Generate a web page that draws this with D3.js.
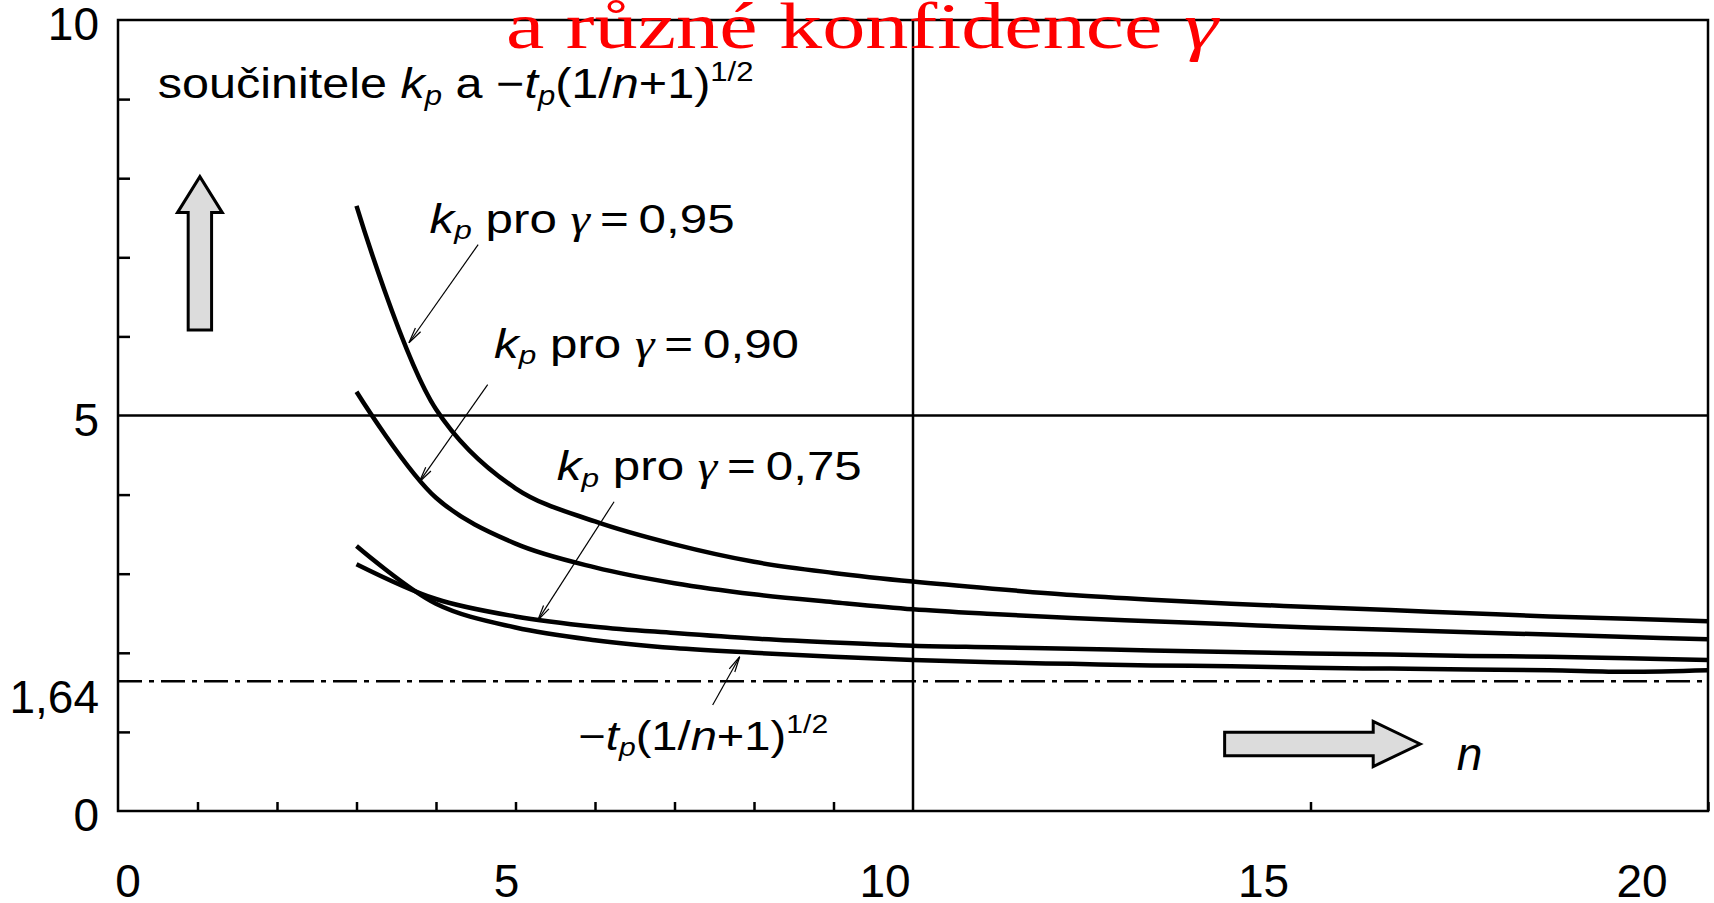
<!DOCTYPE html>
<html>
<head>
<meta charset="utf-8">
<script src="https://cdn.jsdelivr.net/npm/d3@7"></script>
<style>
  html, body { margin: 0; padding: 0; background: #fff; overflow: hidden; }
  svg { display: block; }
  text { fill: #000; }
</style>
</head>
<body>
<div id="chart"></div>
<script>
// values, n = 3 .. 20
var nValues = [3, 4, 5, 6, 7, 8, 9, 10, 11, 12, 13, 14, 15, 16, 17, 18, 19, 20];
var kp95 = [7.65, 5.08, 4.08, 3.66, 3.37, 3.15, 3.01, 2.90, 2.81, 2.73, 2.67, 2.62, 2.58, 2.54, 2.50, 2.46, 2.43, 2.40];
var kp90 = [5.30, 3.96, 3.38, 3.08, 2.88, 2.74, 2.64, 2.55, 2.49, 2.44, 2.40, 2.36, 2.32, 2.29, 2.26, 2.23, 2.20, 2.17];
var kp75 = [3.12, 2.68, 2.46, 2.33, 2.25, 2.18, 2.13, 2.09, 2.07, 2.05, 2.03, 2.01, 1.99, 1.98, 1.96, 1.95, 1.93, 1.91];
var tpTerm = [3.35, 2.62, 2.32, 2.16, 2.06, 2.00, 1.95, 1.91, 1.88, 1.86, 1.84, 1.83, 1.81, 1.80, 1.79, 1.78, 1.76, 1.78];
var limitValue = 1.64;

var xTickLabels = [0, 5, 10, 15, 20];
var yTickLabels = [10, 5, 1.64, 0];
var xMinorTicks = [1, 2, 3, 4, 5, 6, 7, 8, 9, 15, 20];
var yMinorTicks = [1, 2, 3, 4, 6, 7, 8, 9];

var SANS = '"Liberation Sans", Arial, sans-serif';
var SERIF = '"Liberation Serif", "Times New Roman", serif';

// set the dimensions and margins
var margin = { top: 20, right: 6, bottom: 92, left: 118 },
  width = 1714 - margin.left - margin.right,
  height = 903 - margin.top - margin.bottom;

var svg = d3.select('#chart')
  .append('svg')
  .attr('width', 1714)
  .attr('height', 903)
  .style('font-family', SANS);

var g = svg.append('g')
  .attr('transform', 'translate(' + margin.left + ',' + margin.top + ')');

var x = d3.scaleLinear().domain([0, 20]).range([0, width]);
var y = d3.scaleLinear().domain([0, 10]).range([height, 0]);
// the tick labels sit a bit left of their ticks in the original
var xLab = d3.scaleLinear().domain([0, 20]).range([10, 1524]);

var lineW = 2.5;

// ticks (pointing inwards)
var xAxis = g.append('g')
  .attr('transform', 'translate(0,' + height + ')')
  .call(d3.axisBottom(x).tickValues(xMinorTicks).tickSizeInner(-9).tickSizeOuter(0).tickFormat(''));
var yAxis = g.append('g')
  .call(d3.axisLeft(y).tickValues(yMinorTicks).tickSizeInner(-12).tickSizeOuter(0).tickFormat(''));
[xAxis, yAxis].forEach(function (a) {
  a.select('.domain').remove();
  a.selectAll('line').attr('stroke', '#000').attr('stroke-width', lineW);
});

// reference lines at n = 10 and 5
g.append('line')
  .attr('x1', x(10)).attr('x2', x(10))
  .attr('y1', 0).attr('y2', height)
  .attr('stroke', '#000').attr('stroke-width', lineW);
g.append('line')
  .attr('x1', 0).attr('x2', width)
  .attr('y1', y(5)).attr('y2', y(5))
  .attr('stroke', '#000').attr('stroke-width', lineW);

// dash-dot limit 1,64
g.append('line')
  .attr('x1', 0).attr('x2', width)
  .attr('y1', y(limitValue)).attr('y2', y(limitValue))
  .attr('stroke', '#000').attr('stroke-width', lineW)
  .attr('stroke-dasharray', '24,7,5,7');

// frame
g.append('rect')
  .attr('x', 0).attr('y', 0)
  .attr('width', width).attr('height', height)
  .attr('fill', 'none').attr('stroke', '#000').attr('stroke-width', lineW);

// curves
var series = [kp95, kp90, kp75, tpTerm];
var line = d3.line()
  .x(function (d) { return x(d.n); })
  .y(function (d) { return y(d.v); })
  .curve(d3.curveCatmullRom.alpha(0.5));

g.selectAll('path.curve')
  .data(series)
  .enter()
  .append('path')
  .attr('class', 'curve')
  .attr('fill', 'none')
  .attr('stroke', '#000')
  .attr('stroke-width', 4.5)
  .attr('stroke-linejoin', 'round')
  .attr('d', function (vals) {
    return line(nValues.map(function (n, i) { return { n: n, v: vals[i] }; }));
  });

// axis labels
g.selectAll('text.xl')
  .data(xTickLabels)
  .enter()
  .append('text')
  .attr('class', 'xl')
  .attr('x', function (d) { return xLab(d); })
  .attr('y', height + 86)
  .attr('text-anchor', 'middle')
  .attr('font-size', 46)
  .text(function (d) { return d; });

g.selectAll('text.yl')
  .data(yTickLabels)
  .enter()
  .append('text')
  .attr('class', 'yl')
  .attr('x', -19)
  .attr('y', function (d) { return y(d) + (d === limitValue ? 32 : 20); })
  .attr('text-anchor', 'end')
  .attr('font-size', 46)
  .text(function (d) { return String(d).replace('.', ','); });

// rich text helper: parts with italic / sub / sup
function richText(parent, px, py, parts, size, targetW) {
  var t = parent.append('text').attr('x', px).attr('y', py).attr('font-size', size);
  var shift = 0;
  parts.forEach(function (p) {
    var s = t.append('tspan').text(p.t);
    var want = p.sub ? size * 0.16 : p.sup ? -size * 0.42 : 0;
    if (want !== shift) { s.attr('dy', want - shift); shift = want; }
    if (p.sub || p.sup) s.attr('font-size', size * 0.64);
    if (p.it) s.style('font-style', 'italic');
    if (p.serif) s.style('font-family', SERIF);
  });
  if (targetW) {
    var w = t.node().getBBox().width;
    var k = targetW / w;
    t.attr('transform', 'translate(' + px + ',0) scale(' + k + ',1) translate(' + (-px) + ',0)');
  }
  return t;
}

var tpParts = [
  { t: '\u2212' }, { t: 't', it: true }, { t: 'p', it: true, sub: true },
  { t: '(1/' }, { t: 'n', it: true }, { t: '+1)' }, { t: '1/2', sup: true }
];

richText(g, x(0.50), y(9.01), [
  { t: 'sou\u010Dinitele ' }, { t: 'k', it: true }, { t: 'p', it: true, sub: true },
  { t: ' a ' }].concat(tpParts), 42, 596);

function kpLabel(px, py, val) {
  richText(g, px, py, [
    { t: 'k', it: true }, { t: 'p', it: true, sub: true }, { t: ' pro ' },
    { t: '\u03B3', it: true, serif: true }, { t: '\u2009=\u2009' }, { t: val }
  ], 40, 305);
}
kpLabel(x(3.92), y(7.31), '0,95');
kpLabel(x(4.73), y(5.73), '0,90');
kpLabel(x(5.52), y(4.18), '0,75');
richText(g, x(5.79), y(0.77), tpParts, 40, 250);

g.append('text')
  .attr('x', x(16.84)).attr('y', y(0.52))
  .attr('font-size', 46).style('font-style', 'italic')
  .text('n');

// leader lines with small open arrow heads at the curve
var leaders = [
  { from: [4.53, 7.16], to: [3.66, 5.92] },
  { from: [4.65, 5.39], to: [3.79, 4.16] },
  { from: [6.24, 3.91], to: [5.28, 2.41] },
  { from: [7.48, 1.34], to: [7.82, 1.95] }
];
leaders.forEach(function (l) {
  var x1 = x(l.from[0]), y1 = y(l.from[1]), x2 = x(l.to[0]), y2 = y(l.to[1]);
  g.append('line')
    .attr('x1', x1).attr('y1', y1).attr('x2', x2).attr('y2', y2)
    .attr('stroke', '#000').attr('stroke-width', 1.2);
  var ang = Math.atan2(y1 - y2, x1 - x2);
  [-0.2, 0.2].forEach(function (da) {
    g.append('line')
      .attr('x1', x2).attr('y1', y2)
      .attr('x2', x2 + 16 * Math.cos(ang + da))
      .attr('y2', y2 + 16 * Math.sin(ang + da))
      .attr('stroke', '#000').attr('stroke-width', 1.2);
  });
});

// block arrows
var upX = x(1.03), upTop = y(8.02), upBot = y(6.08);
g.append('path')
  .attr('d', d3.line()([
    [upX, upTop], [upX + 22.4, upTop + 36], [upX + 11.7, upTop + 36], [upX + 11.7, upBot],
    [upX - 11.7, upBot], [upX - 11.7, upTop + 36], [upX - 22.4, upTop + 36]
  ]) + 'Z')
  .attr('fill', '#dcdcdc').attr('stroke', '#000').attr('stroke-width', 3)
  .attr('stroke-linejoin', 'miter');

var rL = x(13.92), rT = x(16.38), rY = y(0.847);
g.append('path')
  .attr('d', d3.line()([
    [rT, rY], [rT - 47, rY - 22.5], [rT - 47, rY - 11.7], [rL, rY - 11.7],
    [rL, rY + 11.7], [rT - 47, rY + 11.7], [rT - 47, rY + 22.5]
  ]) + 'Z')
  .attr('fill', '#dcdcdc').attr('stroke', '#000').attr('stroke-width', 3)
  .attr('stroke-linejoin', 'miter');

// red title, cut by the top edge
var title = svg.append('text')
  .attr('x', 506).attr('y', 48)
  .attr('font-size', 66)
  .attr('textLength', 712)
  .attr('lengthAdjust', 'spacingAndGlyphs')
  .style('font-family', SERIF)
  .style('fill', '#ff0000');
title.append('tspan').text('a r\u016Fzn\u00E9 konfidence ');
title.append('tspan').style('font-style', 'italic').text('\u03B3');
</script>
</body>
</html>
